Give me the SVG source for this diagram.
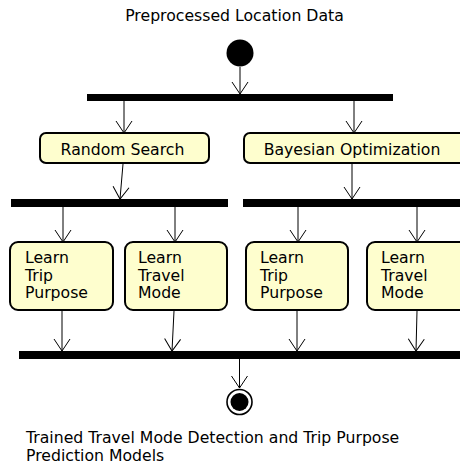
<svg xmlns="http://www.w3.org/2000/svg" width="460" height="466" viewBox="0 0 460 466">
  <style>
    text { font-family: "DejaVu Sans", "Liberation Sans", sans-serif; font-size: 15.7px; fill: #000; }
    .act { fill: #FEFECE; stroke: #000; stroke-width: 2; }
    .bar { fill: #000; }
    .flow line { stroke: #000; stroke-width: 1; marker-end: url(#arr); }
  </style>
  <defs>
    <marker id="arr" markerUnits="userSpaceOnUse" markerWidth="20" markerHeight="20" refX="12" refY="8" orient="auto" overflow="visible">
      <path d="M0,0 L12,8 L0,16" fill="none" stroke="#000" stroke-width="1"/>
    </marker>
  </defs>

  <g id="title"><text x="234.5" y="21" text-anchor="middle">Preprocessed Location Data</text></g>

  <g id="start"><circle cx="240" cy="53" r="13.5" fill="#000"/></g>

  <g id="fork1"><rect class="bar" x="87" y="94" width="306" height="7"/></g>
  <g id="fork2"><rect class="bar" x="11" y="199" width="217" height="8"/></g>
  <g id="fork3"><rect class="bar" x="243" y="199" width="220" height="8"/></g>
  <g id="join"><rect class="bar" x="19" y="351" width="444" height="8"/></g>

  <g id="random-search">
    <rect class="act" x="40" y="133" width="169" height="30" rx="6"/>
    <text x="122.5" y="155" text-anchor="middle">Random Search</text>
  </g>
  <g id="bayesian-optimization">
    <rect class="act" x="244" y="133" width="222" height="30" rx="6"/>
    <text x="352" y="155" text-anchor="middle">Bayesian Optimization</text>
  </g>

  <g id="rs-trip">
    <rect class="act" x="10" y="242" width="103" height="68" rx="8"/>
    <text x="25" y="263">Learn</text>
    <text x="25" y="280.5">Trip</text>
    <text x="25" y="298">Purpose</text>
  </g>
  <g id="rs-mode">
    <rect class="act" x="125" y="242" width="102" height="68" rx="8"/>
    <text x="138" y="263">Learn</text>
    <text x="138" y="280.5">Travel</text>
    <text x="138" y="298">Mode</text>
  </g>
  <g id="bo-trip">
    <rect class="act" x="246" y="242" width="102" height="68" rx="8"/>
    <text x="260" y="263">Learn</text>
    <text x="260" y="280.5">Trip</text>
    <text x="260" y="298">Purpose</text>
  </g>
  <g id="bo-mode">
    <rect class="act" x="367" y="242" width="102" height="68" rx="8"/>
    <text x="381" y="263">Learn</text>
    <text x="381" y="280.5">Travel</text>
    <text x="381" y="298">Mode</text>
  </g>

  <g id="end">
    <circle cx="239.5" cy="402" r="12.5" fill="#fff" stroke="#000" stroke-width="1.6"/>
    <circle cx="239.5" cy="402" r="9" fill="#000"/>
  </g>

  <g id="caption">
    <text x="26" y="442.5">Trained Travel Mode Detection and Trip Purpose</text>
    <text x="26" y="461">Prediction Models</text>
  </g>

  <g id="connectors" class="flow">
    <line x1="240" y1="67" x2="240" y2="94"/>
    <line x1="124" y1="101" x2="124" y2="133"/>
    <line x1="354" y1="101" x2="354" y2="133"/>
    <line x1="123" y1="164" x2="120" y2="199"/>
    <line x1="352" y1="164" x2="352" y2="199"/>
    <line x1="63" y1="207" x2="63" y2="242"/>
    <line x1="175" y1="207" x2="175" y2="242"/>
    <line x1="298" y1="207" x2="298" y2="242"/>
    <line x1="417" y1="207" x2="417" y2="242"/>
    <line x1="62" y1="311" x2="62" y2="351"/>
    <line x1="174" y1="311" x2="172" y2="351"/>
    <line x1="297" y1="311" x2="297" y2="351"/>
    <line x1="417" y1="311" x2="416" y2="351"/>
    <line x1="239.5" y1="359" x2="239.5" y2="388"/>
  </g>
</svg>
